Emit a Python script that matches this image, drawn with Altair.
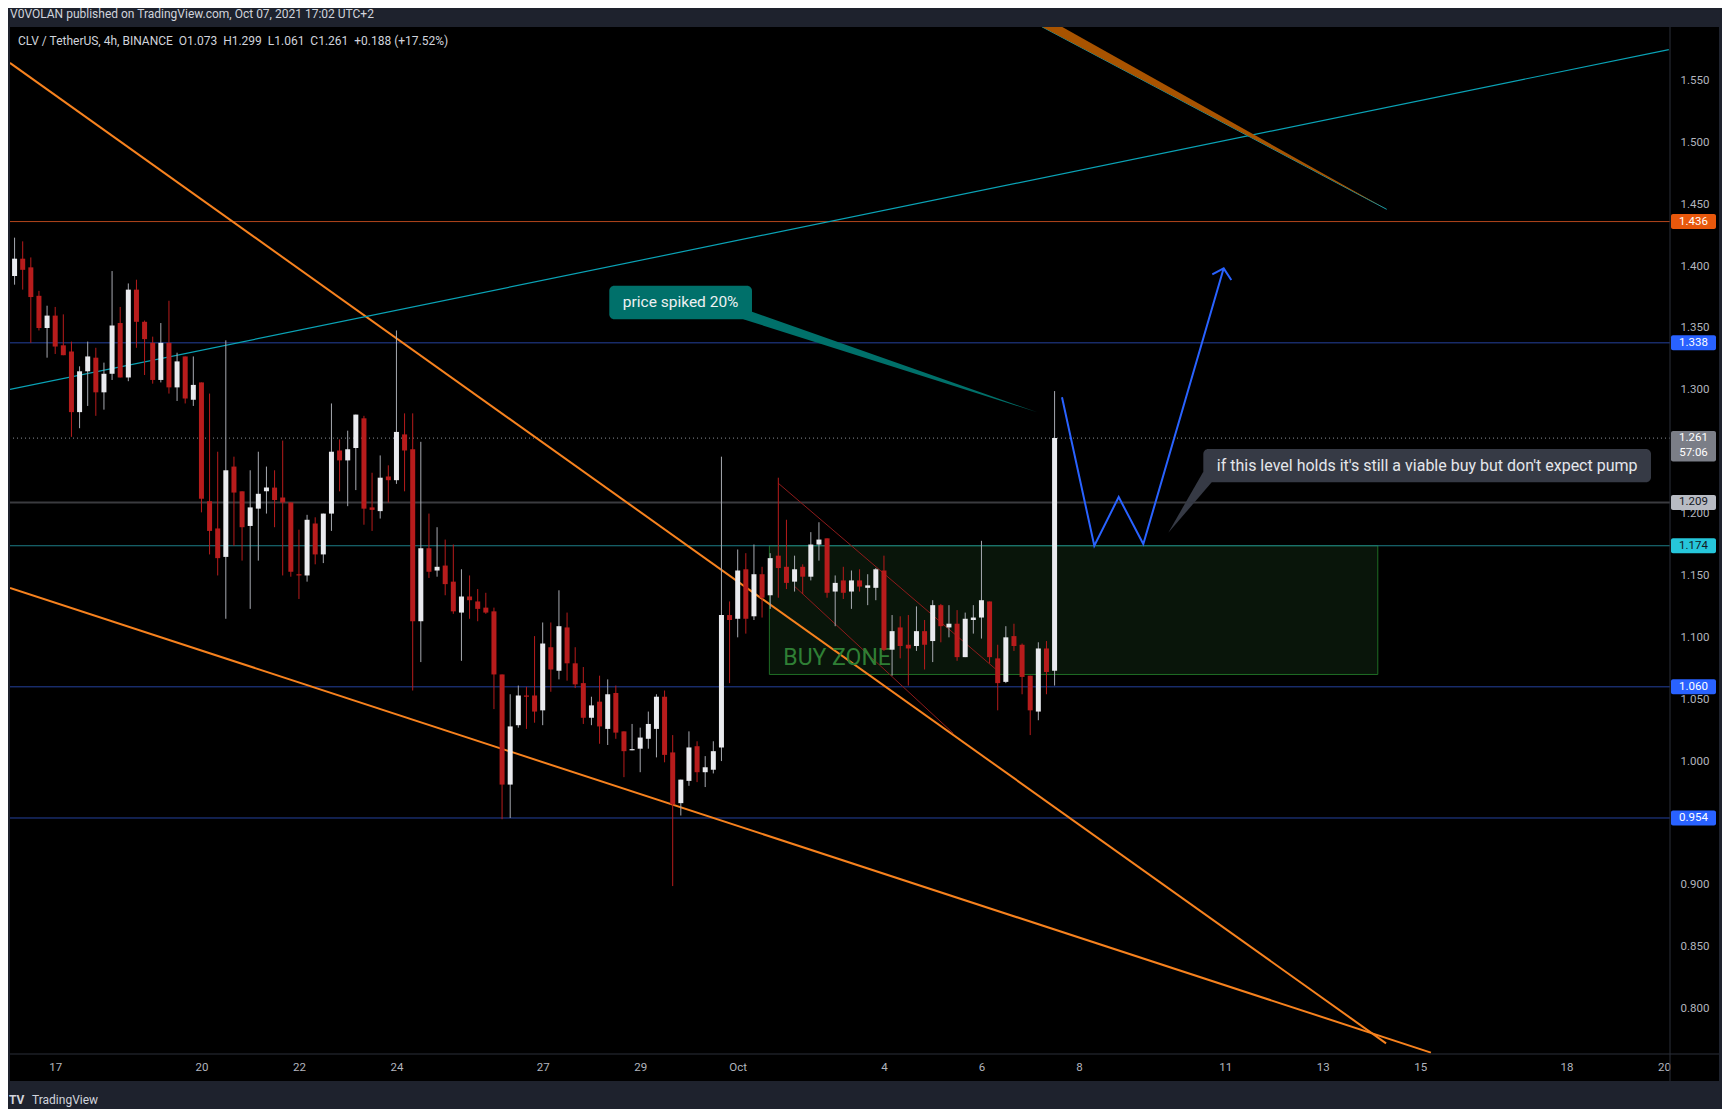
import altair as alt
import pandas as pd
import numpy as np

# ---------------- data ----------------
# CLV / USDT, 4h candles, first candle 2021-09-16 04:00 ; x unit = days from Sep 17 00:00
first_candle_day = -5 / 6
candle_step_day = 1 / 6

opens = [1.392, 1.406, 1.399, 1.376, 1.350, 1.360, 1.336, 1.331, 1.282, 1.315,
         1.326, 1.298, 1.313, 1.354, 1.310, 1.381, 1.355, 1.338, 1.308, 1.338,
         1.302, 1.327, 1.292, 1.306, 1.210, 1.188, 1.165, 1.238, 1.218, 1.190,
         1.204, 1.218, 1.221, 1.213, 1.209, 1.151, 1.150, 1.192, 1.167, 1.200,
         1.251, 1.243, 1.253, 1.277, 1.205, 1.202, 1.230, 1.227, 1.264, 1.252,
         1.113, 1.172, 1.154, 1.158, 1.145, 1.120, 1.133, 1.129, 1.124, 1.121,
         1.070, 0.981, 1.029, 1.053, 1.053, 1.041, 1.092, 1.073, 1.108, 1.079,
         1.063, 1.035, 1.048, 1.026, 1.055, 1.024, 1.0087, 1.010, 1.018, 1.026,
         1.052, 1.007, 0.966, 0.984, 1.012, 0.991, 0.993, 1.011, 1.118, 1.115,
         1.155, 1.117, 1.151, 1.134, 1.166, 1.157, 1.145, 1.157, 1.149, 1.175,
         1.180, 1.137, 1.146, 1.137, 1.146, 1.140, 1.140, 1.154, 1.090, 1.108,
         1.094, 1.093, 1.105, 1.097, 1.126, 1.108, 1.111, 1.084, 1.114, 1.116,
         1.129, 1.083, 1.064, 1.101, 1.094, 1.069, 1.040, 1.091, 1.073]
highs = [1.423, 1.420, 1.407, 1.380, 1.368, 1.367, 1.361, 1.339, 1.319, 1.339,
         1.334, 1.322, 1.396, 1.367, 1.386, 1.389, 1.356, 1.343, 1.354, 1.372,
         1.330, 1.327, 1.327, 1.306, 1.297, 1.250, 1.340, 1.246, 1.218, 1.235,
         1.250, 1.238, 1.235, 1.259, 1.209, 1.187, 1.199, 1.197, 1.200, 1.289,
         1.260, 1.267, 1.280, 1.279, 1.233, 1.247, 1.239, 1.348, 1.281, 1.281,
         1.258, 1.200, 1.189, 1.179, 1.175, 1.155, 1.150, 1.139, 1.136, 1.124,
         1.070, 1.054, 1.061, 1.060, 1.101, 1.112, 1.112, 1.138, 1.120, 1.092,
         1.076, 1.052, 1.069, 1.066, 1.061, 1.024, 1.030, 1.027, 1.040, 1.054,
         1.057, 1.021, 0.985, 1.024, 1.016, 1.004, 1.016, 1.246, 1.129, 1.171,
         1.168, 1.175, 1.157, 1.168, 1.229, 1.195, 1.166, 1.159, 1.185, 1.193,
         1.180, 1.150, 1.157, 1.154, 1.155, 1.151, 1.156, 1.166, 1.118, 1.117,
         1.118, 1.125, 1.114, 1.130, 1.127, 1.126, 1.122, 1.120, 1.126, 1.178,
         1.129, 1.094, 1.109, 1.111, 1.095, 1.069, 1.096, 1.097, 1.299]
lows = [1.385, 1.381, 1.338, 1.348, 1.326, 1.329, 1.328, 1.262, 1.269, 1.287,
        1.279, 1.284, 1.308, 1.310, 1.307, 1.334, 1.312, 1.305, 1.306, 1.297,
        1.291, 1.289, 1.287, 1.201, 1.167, 1.150, 1.115, 1.174, 1.162, 1.123,
        1.162, 1.200, 1.189, 1.150, 1.149, 1.131, 1.145, 1.159, 1.160, 1.186,
        1.218, 1.206, 1.219, 1.191, 1.186, 1.196, 1.209, 1.224, 1.218, 1.057,
        1.080, 1.148, 1.149, 1.134, 1.119, 1.081, 1.115, 1.113, 1.119, 1.042,
        0.953, 0.954, 1.027, 1.026, 1.031, 1.029, 1.056, 1.066, 1.065, 1.059,
        1.030, 1.029, 1.014, 1.013, 1.018, 0.987, 1.0087, 0.991, 1.010, 1.003,
        0.999, 0.899, 0.956, 0.980, 0.983, 0.979, 0.990, 1.000, 1.063, 1.100,
        1.103, 1.114, 1.116, 1.123, 1.132, 1.139, 1.137, 1.135, 1.146, 1.162,
        1.132, 1.109, 1.131, 1.123, 1.137, 1.126, 1.130, 1.089, 1.069, 1.083,
        1.061, 1.089, 1.074, 1.080, 1.096, 1.100, 1.081, 1.084, 1.103, 1.099,
        1.079, 1.041, 1.063, 1.089, 1.054, 1.021, 1.033, 1.054, 1.061]
closes = [1.406, 1.397, 1.375, 1.350, 1.360, 1.335, 1.328, 1.282, 1.315, 1.327,
          1.298, 1.313, 1.352, 1.310, 1.381, 1.355, 1.341, 1.308, 1.338, 1.302,
          1.323, 1.293, 1.304, 1.212, 1.186, 1.164, 1.235, 1.217, 1.189, 1.205,
          1.216, 1.221, 1.211, 1.209, 1.153, 1.150, 1.195, 1.167, 1.200, 1.250,
          1.243, 1.252, 1.280, 1.204, 1.203, 1.229, 1.227, 1.266, 1.251, 1.113,
          1.172, 1.153, 1.157, 1.143, 1.121, 1.133, 1.130, 1.123, 1.120, 1.070,
          0.981, 1.028, 1.053, 1.052, 1.040, 1.095, 1.074, 1.109, 1.079, 1.062,
          1.035, 1.045, 1.028, 1.054, 1.023, 1.008, 1.0090, 1.019, 1.030, 1.052,
          1.005, 0.965, 0.985, 1.011, 0.991, 0.995, 1.008, 1.118, 1.114, 1.154,
          1.115, 1.151, 1.132, 1.164, 1.156, 1.144, 1.155, 1.149, 1.175, 1.179,
          1.136, 1.144, 1.136, 1.146, 1.141, 1.142, 1.155, 1.090, 1.105, 1.093,
          1.091, 1.105, 1.094, 1.126, 1.109, 1.111, 1.084, 1.115, 1.116, 1.130,
          1.084, 1.063, 1.100, 1.093, 1.068, 1.041, 1.091, 1.072, 1.261]

# x axis ticks (days from Sep 17) and their labels
x_tick_days = [0, 3, 5, 7, 10, 12, 14, 17, 19, 21, 24, 26, 28, 31, 33]
x_tick_labels = ["17", "20", "22", "24", "27", "29", "Oct", "4", "6", "8", "11", "13", "15", "18", "20"]
y_tick_values = [0.80, 0.85, 0.90, 1.00, 1.05, 1.10, 1.15, 1.20, 1.30, 1.35, 1.40, 1.45, 1.50, 1.55]

# horizontal levels
level_values = [1.436, 1.338, 1.209, 1.174, 1.060, 0.954]
level_line_colors = ["#b4461c", "#24409c", "#3a3b3f", "#1c7e87", "#24409c", "#24409c"]
level_line_widths = [1, 1, 2, 1, 1, 1]
last_price = 1.261

# price-scale label boxes
tag_values = [1.436, 1.338, 1.261, 1.209, 1.174, 1.060, 0.954]
tag_texts = ["1.436", "1.338", "1.261", "1.209", "1.174", "1.060", "0.954"]
tag_fill = ["#e8580c", "#2962ff", "#7b7e87", "#b8bbc3", "#26c6da", "#2962ff", "#2962ff"]
tag_text_color = ["#ffffff", "#ffffff", "#ffffff", "#131722", "#131722", "#ffffff", "#ffffff"]
countdown_text = "57:06"

# drawn trend lines: (id, day, price)
trend_ids = ["or1", "or1", "or2", "or2", "cy1", "cy1", "cy2", "cy2",
             "rd1", "rd1", "rd2", "rd2"]
trend_days = [-0.929, 27.30, -0.927, 28.22, -0.927, 33.10, 20.236, 27.313,
              14.833, 19.313, 15.175, 18.423]
trend_prices = [1.5642, 0.7719, 1.1399, 0.7644, 1.3003, 1.575, 1.5935, 1.4459,
                1.2245, 1.0736, 1.1409, 1.0224]
trend_colors = {"or1": "#f7821e", "or2": "#f7821e", "cy1": "#0aa3b6", "cy2": "#0aa3b6",
                "rd1": "#8e1b1b", "rd2": "#8e1b1b"}
trend_widths = {"or1": 2, "or2": 2, "cy1": 1.2, "cy2": 1, "rd1": 1, "rd2": 1}

# orange wedge (brush) near the top
wedge_days = [20.236, 27.313]
wedge_low = [1.5935, 1.4459]
wedge_high = [1.6026, 1.4459]

# blue projected path and arrow head
path_days = [20.652, 21.315, 21.815, 22.320, 23.969]
path_prices = [1.2940, 1.1740, 1.2134, 1.1754, 1.3982]
head_days = [23.735, 23.969, 24.125]
head_prices = [1.3934, 1.3982, 1.3888]

# buy zone
zone_days = [14.65, 27.13]
zone_prices = [1.070, 1.174]
zone_label = "BUY ZONE"

# callouts
c1_text = "price spiked 20%"
c1_box_days = [11.366, 14.293]
c1_box_prices = [1.357, 1.3842]
c1_ptr_days = [14.115, 14.293, 20.146]
c1_ptr_low = [1.357, 1.3548, 1.2819]
c1_ptr_high = [1.357, 1.3632, 1.2819]

c2_text = "if this level holds it's still a viable buy but don't expect pump"
c2_box_days = [23.551, 32.734]
c2_box_prices = [1.2253, 1.2522]
c2_ptr_days = [22.833, 23.551, 23.723]
c2_ptr_low = [1.1846, 1.2174, 1.2253]
c2_ptr_high = [1.1846, 1.2339, 1.2253]

header_text = "V0VOLAN published on TradingView.com, Oct 07, 2021 17:02 UTC+2"
symbol_text = "CLV / TetherUS, 4h, BINANCE\u00a0 O1.073\u00a0 H1.299\u00a0 L1.061\u00a0 C1.261\u00a0 +0.188 (+17.52%)"

# ---------------- layout / style ----------------
W, H = 1660, 1027
Y_DOMAIN = [0.76327, 1.59324]
X_DOMAIN = [-0.9272, 33.124]
PX_PER_PRICE = H / (Y_DOMAIN[1] - Y_DOMAIN[0])
FRAME = "#1e222d"
FONT = "Roboto"

xscale = alt.Scale(domain=X_DOMAIN, nice=False, zero=False, padding=0)
yscale = alt.Scale(domain=Y_DOMAIN, nice=False, zero=False, padding=0)
label_expr = "[" + ",".join("'%s'" % s for s in x_tick_labels) + "][indexof([" + \
    ",".join(str(v) for v in x_tick_days) + "], datum.value)]"
xaxis = alt.Axis(values=x_tick_days, labelExpr=label_expr, title=None, labelPadding=7,
                 labelFlush=False)
yaxis = alt.Axis(values=y_tick_values, format=".3f", orient="right", title=None,
                 labelPadding=10, labelFlush=False)


def X(field):
    return alt.X(field, type="quantitative", scale=xscale, axis=xaxis)


def Y(field):
    return alt.Y(field, type="quantitative", scale=yscale, axis=yaxis)


one = pd.DataFrame({"k": [0]})


def px_rect(x, x2, y, y2, color):
    return alt.Chart(one).mark_rect(color=color).encode(
        x=alt.value(x), x2=alt.value(x2), y=alt.value(y), y2=alt.value(y2))


def px_text(txt, x, y, size, color, weight="normal", align="left"):
    return alt.Chart(one).mark_text(text=txt, align=align, baseline="middle", font=FONT,
                                    fontSize=size, color=color, fontWeight=weight).encode(
        x=alt.value(x), y=alt.value(y))


# candles
n = len(opens)
cdf = pd.DataFrame({"d": [first_candle_day + i * candle_step_day for i in range(n)],
                    "o": opens, "h": highs, "l": lows, "c": closes})
up = cdf["c"] >= cdf["o"]
cdf["lo"] = cdf[["o", "c"]].min(axis=1)
cdf["hi"] = np.maximum(cdf[["o", "c"]].max(axis=1), cdf["lo"] + 1.2 / PX_PER_PRICE)
cdf["body_col"] = np.where(up, "#e9eaee", "#b71c1c")
cdf["wick_col"] = np.where(up, "#a6a9b0", "#b71c1c")

wicks = alt.Chart(cdf).mark_rule(strokeWidth=1).encode(
    x=X("d"), y=Y("l"), y2="h:Q", color=alt.Color("wick_col:N", scale=None))
bodies = alt.Chart(cdf).mark_bar(size=5).encode(
    x=X("d"), y=Y("lo"), y2="hi:Q", color=alt.Color("body_col:N", scale=None))

# levels
ldf = pd.DataFrame({"p": level_values, "col": level_line_colors, "w": level_line_widths})
levels = alt.Chart(ldf).mark_rule().encode(
    y=Y("p"), color=alt.Color("col:N", scale=None), size=alt.Size("w:Q", scale=None))
last_line = alt.Chart(pd.DataFrame({"p": [last_price]})).mark_rule(
    color="#8a8d96", strokeDash=[1, 3], strokeWidth=1).encode(y=Y("p"))

# trend lines
tdf = pd.DataFrame({"id": trend_ids, "d": trend_days, "p": trend_prices})
tdf["col"] = tdf["id"].map(trend_colors)
tdf["w"] = tdf["id"].map(trend_widths)
trends = alt.Chart(tdf).mark_line(clip=True).encode(
    x=X("d"), y=Y("p"), detail="id:N", color=alt.Color("col:N", scale=None),
    size=alt.Size("w:Q", scale=None))

wedge = alt.Chart(pd.DataFrame({"d": wedge_days, "a": wedge_low, "b": wedge_high})).mark_area(
    clip=True, color="#a85300", orient="vertical").encode(x=X("d"), y=Y("a"), y2="b:Q")

# buy zone
zdf = pd.DataFrame({"d1": [zone_days[0]], "d2": [zone_days[1]],
                    "p1": [zone_prices[0]], "p2": [zone_prices[1]]})
zone = alt.Chart(zdf).mark_rect(fill="#09150a", stroke="#1f6d25", strokeWidth=1).encode(
    x=X("d1"), x2="d2:Q", y=Y("p1"), y2="p2:Q")
zone_txt = alt.Chart(pd.DataFrame({"d": [14.936], "p": [1.0833], "t": [zone_label]})).mark_text(
    align="left", baseline="middle", font=FONT, fontSize=23, color="#2f7f35").encode(
    x=X("d"), y=Y("p"), text="t:N")

# blue path
path = alt.Chart(pd.DataFrame({"d": path_days, "p": path_prices})).mark_line(
    color="#2962ff", strokeWidth=2).encode(x=X("d"), y=Y("p"))
head = alt.Chart(pd.DataFrame({"d": head_days, "p": head_prices})).mark_line(
    color="#2962ff", strokeWidth=2).encode(x=X("d"), y=Y("p"))


# callouts
def callout(box_d, box_p, ptr_d, ptr_lo, ptr_hi, text, fill, size, tcol):
    bdf = pd.DataFrame({"d1": [box_d[0]], "d2": [box_d[1]], "p1": [box_p[0]], "p2": [box_p[1]],
                        "dm": [(box_d[0] + box_d[1]) / 2], "pm": [(box_p[0] + box_p[1]) / 2],
                        "t": [text]})
    ptr = alt.Chart(pd.DataFrame({"d": ptr_d, "a": ptr_lo, "b": ptr_hi})).mark_area(
        color=fill, orient="vertical").encode(x=X("d"), y=Y("a"), y2="b:Q")
    box = alt.Chart(bdf).mark_rect(color=fill, cornerRadius=5).encode(
        x=X("d1"), x2="d2:Q", y=Y("p1"), y2="p2:Q")
    txt = alt.Chart(bdf).mark_text(align="center", baseline="middle", font=FONT,
                                   fontSize=size, color=tcol).encode(
        x=X("dm"), y=Y("pm"), text="t:N")
    return [ptr, box, txt]


c1 = callout(c1_box_days, c1_box_prices, c1_ptr_days, c1_ptr_low, c1_ptr_high,
             c1_text, "#00706a", 15.5, "#eef0f3")
c2 = callout(c2_box_days, c2_box_prices, c2_ptr_days, c2_ptr_low, c2_ptr_high,
             c2_text, "#363a45", 16, "#e4e6eb")

# price scale tags
half = 7.5 / PX_PER_PRICE
gdf = pd.DataFrame({"p": tag_values, "t": tag_texts, "fill": tag_fill, "tc": tag_text_color})
gdf["top"] = gdf["p"] + half
gdf["bot"] = gdf["p"] - half
gdf.loc[gdf["t"] == "1.261", "top"] = last_price + 7 / PX_PER_PRICE
gdf.loc[gdf["t"] == "1.261", "bot"] = last_price - 23.5 / PX_PER_PRICE
tag_box = alt.Chart(gdf).mark_rect(cornerRadius=2).encode(
    x=alt.value(1661), x2=alt.value(1706), y=Y("top"), y2="bot:Q",
    color=alt.Color("fill:N", scale=None))
tag_txt = alt.Chart(gdf).mark_text(align="center", baseline="middle", font=FONT,
                                   fontSize=11.5).encode(
    x=alt.value(1683.5), y=Y("p"), text="t:N", color=alt.Color("tc:N", scale=None))
cd_txt = alt.Chart(pd.DataFrame({"p": [last_price - 15 / PX_PER_PRICE], "t": [countdown_text]})).mark_text(
    align="center", baseline="middle", font=FONT, fontSize=11.5, color="#ffffff").encode(
    x=alt.value(1683.5), y=Y("p"), text="t:N")

# separators of the panes
sep_v = alt.Chart(one).mark_rule(color="#2a2e39", strokeWidth=1).encode(
    x=alt.value(1660), y=alt.value(0), y2=alt.value(1054))
sep_h = alt.Chart(one).mark_rule(color="#2a2e39", strokeWidth=1).encode(
    x=alt.value(0), x2=alt.value(1709), y=alt.value(1027))

# outer frame
frame = [px_rect(-2, 1712, -19, 0, FRAME), px_rect(-2, 0, -19, 1082, FRAME),
         px_rect(1709, 1712, -19, 1082, FRAME), px_rect(-2, 1712, 1054, 1082, FRAME)]

texts = [px_text(header_text, 0, -13, 12, "#d1d4dc"),
         px_text(symbol_text, 8, 14, 12, "#d1d4dc"),
         px_text("TV", -1, 1073, 12, "#d1d4dc", weight="bold"),
         px_text("TradingView", 22, 1073, 12, "#d1d4dc")]

layers = frame + [zone, levels, last_line, trends, wedge, zone_txt, wicks, bodies,
                  path, head] + c1 + c2 + [sep_v, sep_h, tag_box, tag_txt, cd_txt] + texts

chart = alt.layer(*layers).properties(
    width=W, height=H, padding=0, background="#000000"
).configure_view(strokeWidth=0).configure_axis(
    grid=False, domain=False, ticks=False, labelColor="#b2b5be", labelFont=FONT,
    labelFontSize=11.5
)

chart.save("out.html", embed_options={"renderer": "svg", "actions": False})
